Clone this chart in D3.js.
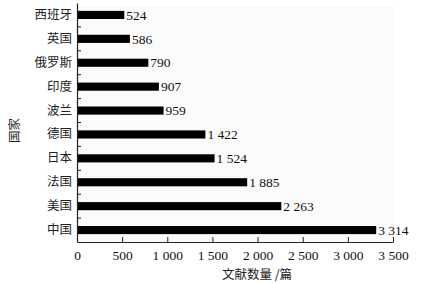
<!DOCTYPE html>
<html>
<head>
<meta charset="utf-8">
<script src="https://cdn.jsdelivr.net/npm/d3@7"></script>
<style>
  html, body { margin: 0; padding: 0; background: #fff; }
  svg { display: block; }
  .num { font-family: "Liberation Serif", "DejaVu Serif", serif; font-size: 13.5px; fill: #111; }
  .cjk { font-family: "Noto Sans CJK SC", sans-serif; font-size: 12.5px; fill: #222; }
</style>
</head>
<body>
<svg id="chart" width="429" height="284"></svg>
<script>
// categories top → bottom
const countries = ['西班牙', '英国', '俄罗斯', '印度', '波兰', '德国', '日本', '法国', '美国', '中国'];
const docCounts = [524, 586, 790, 907, 959, 1422, 1524, 1885, 2263, 3314];
const xTicks = [0, 500, 1000, 1500, 2000, 2500, 3000, 3500];
const xTitle = '文献数量 /篇';
const yTitle = '国家';

const W = 429, H = 284;
const MARGIN = { top: 3, right: 36, bottom: 42, left: 77 };
const innerW = W - MARGIN.left - MARGIN.right;
const innerH = H - MARGIN.top - MARGIN.bottom;

const fmt = v => d3.format(',')(v).replace(/,/g, ' ');

const svg = d3.select('#chart');
const g = svg.append('g').attr('transform', `translate(${MARGIN.left},${MARGIN.top})`);

const x = d3.scaleLinear().domain([0, 3500]).range([0, innerW]);
const y = d3.scaleBand().domain(countries).range([0, innerH])
    .paddingInner(0.66).paddingOuter(0.33);

// faint plot background
g.append('rect')
    .attr('x', 0).attr('y', 3)
    .attr('width', innerW + 2).attr('height', innerH - 3)
    .attr('fill', '#fbfbfb');

// bars
g.selectAll('.bar').data(countries).enter().append('rect')
    .attr('class', 'bar')
    .attr('x', x(0))
    .attr('y', d => y(d))
    .attr('width', (d, i) => x(docCounts[i]) - x(0))
    .attr('height', y.bandwidth())
    .attr('fill', '#000');

// value labels
g.selectAll('.val').data(countries).enter().append('text')
    .attr('class', 'num')
    .attr('x', (d, i) => x(docCounts[i]) + 2)
    .attr('y', d => y(d) + y.bandwidth() / 2)
    .attr('dy', '0.35em')
    .text((d, i) => fmt(docCounts[i]));

// x axis — inward ticks
const xAxis = g.append('g')
    .attr('transform', `translate(0,${innerH})`)
    .call(d3.axisBottom(x).tickValues(xTicks).tickSizeInner(-5).tickSizeOuter(0).tickPadding(8).tickFormat(fmt));
xAxis.select('.domain').attr('stroke', '#222').attr('stroke-width', 1.2);
xAxis.selectAll('.tick line').attr('stroke', '#222');
xAxis.selectAll('text').attr('class', 'num').attr('font-family', null).attr('font-size', null);

// y axis — labels only, boundary ticks drawn below
const yAxis = g.append('g')
    .call(d3.axisLeft(y).tickSize(0).tickPadding(5));
yAxis.select('.domain').attr('stroke', '#222').attr('stroke-width', 1.2);
yAxis.selectAll('text').attr('class', 'cjk').attr('font-family', null).attr('font-size', null);

// small inward ticks between categories
g.selectAll('.ytick').data(countries.slice(0, -1)).enter().append('line')
    .attr('x1', 0).attr('x2', 4)
    .attr('y1', d => y(d) + y.bandwidth() + (y.step() - y.bandwidth()) / 2)
    .attr('y2', d => y(d) + y.bandwidth() + (y.step() - y.bandwidth()) / 2)
    .attr('stroke', '#222');

// axis titles
svg.append('text')
    .attr('class', 'cjk')
    .attr('x', 257).attr('y', 279)
    .attr('text-anchor', 'middle')
    .text(xTitle);

svg.append('text')
    .attr('class', 'cjk')
    .attr('transform', `translate(19,${MARGIN.top + innerH / 2 + 8}) rotate(-90)`)
    .attr('text-anchor', 'middle')
    .text(yTitle);
</script>
</body>
</html>
